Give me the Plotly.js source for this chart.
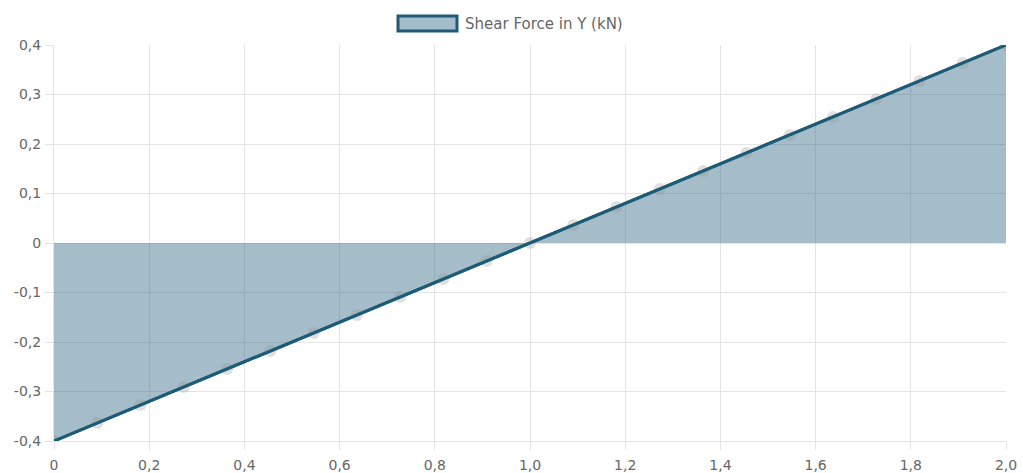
<!DOCTYPE html>
<html>
<head>
<meta charset="utf-8">
<script src="https://cdn.plot.ly/plotly-3.0.1.min.js"></script>
<style>html,body{margin:0;padding:0;background:#fff;}#chart{width:1023px;height:473px;}</style>
</head>
<body>
<div id="chart"></div>
<script>
const positions = [0, 0.0909, 0.1818, 0.2727, 0.3636, 0.4545, 0.5455, 0.6364, 0.7273, 0.8182, 0.9091, 1.0, 1.0909, 1.1818, 1.2727, 1.3636, 1.4545, 1.5455, 1.6364, 1.7273, 1.8182, 1.9091, 2.0];
const shearY = [-0.4, -0.3636, -0.3273, -0.2909, -0.2545, -0.2182, -0.1818, -0.1455, -0.1091, -0.0727, -0.0364, 0, 0.0364, 0.0727, 0.1091, 0.1455, 0.1818, 0.2182, 0.2545, 0.2909, 0.3273, 0.3636, 0.4];
const seriesName = "Shear Force in Y (kN)";
const xTickVals = [0, 0.2, 0.4, 0.6, 0.8, 1.0, 1.2, 1.4, 1.6, 1.8, 2.0];
const xTickText = ["0", "0,2", "0,4", "0,6", "0,8", "1,0", "1,2", "1,4", "1,6", "1,8", "2,0"];
const yTickVals = [-0.4, -0.3, -0.2, -0.1, 0, 0.1, 0.2, 0.3, 0.4];
const yTickText = ["-0,4", "-0,3", "-0,2", "-0,1", "0", "0,1", "0,2", "0,3", "0,4"];

const lineColor = "#1d5b77";
const fillColor = "rgba(29,91,119,0.4)";
const gridColor = "#e4e4e4";
const fontFam = "DejaVu Sans, Verdana, sans-serif";

const traces = [
  {x: positions, y: shearY, type: "scatter", mode: "lines", fill: "tozeroy",
   fillcolor: fillColor, line: {color: lineColor, width: 3}, showlegend: false, hoverinfo: "x+y"},
  {x: positions, y: shearY, type: "scatter", mode: "markers",
   marker: {size: 12, color: "rgba(140,140,140,0.27)", line: {width: 0}}, showlegend: false, hoverinfo: "skip"},
  {x: positions, y: shearY, type: "scatter", mode: "lines",
   line: {color: lineColor, width: 3}, showlegend: false, hoverinfo: "skip"}
];

const axisCommon = {
  gridcolor: gridColor, gridwidth: 1, zeroline: false,
  showline: true, linecolor: gridColor, linewidth: 1,
  ticks: "outside", ticklen: 8, tickcolor: gridColor, tickwidth: 1,
  tickfont: {family: fontFam, size: 14, color: "#666"}, tickmode: "array"
};

const layout = {
  width: 1023, height: 473,
  margin: {l: 54, r: 17, t: 45, b: 32},
  paper_bgcolor: "#fff", plot_bgcolor: "#fff",
  showlegend: false,
  xaxis: Object.assign({}, axisCommon, {range: [0, 2.0], tickvals: xTickVals, ticktext: xTickText, ticklabelstandoff: 3}),
  yaxis: Object.assign({}, axisCommon, {range: [-0.4, 0.4], tickvals: yTickVals, ticktext: yTickText, ticklabelstandoff: 1}),
  shapes: [
    {type: "rect", xref: "paper", yref: "paper",
     x0: (398 - 54) / 952, x1: (457 - 54) / 952, y0: (441 - 31) / 396, y1: (441 - 16) / 396,
     fillcolor: "rgba(29,91,119,0.4)", line: {color: lineColor, width: 3}}
  ],
  annotations: [
    {xref: "paper", yref: "paper", x: (463 - 54) / 952, y: (441 - 23.5) / 396,
     xanchor: "left", yanchor: "middle", showarrow: false, text: seriesName,
     font: {family: fontFam, size: 15, color: "#666"}}
  ]
};

Plotly.newPlot("chart", traces, layout, {displayModeBar: false, staticPlot: true});
</script>
</body>
</html>
